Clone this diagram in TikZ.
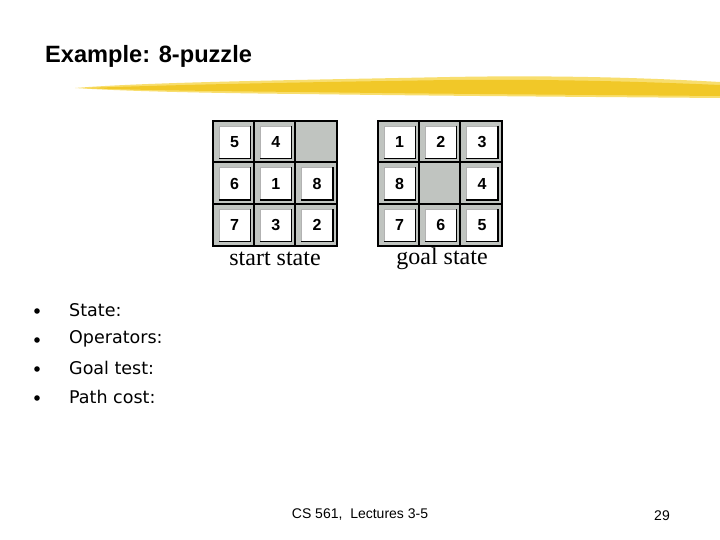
\documentclass[tikz,border=0pt]{standalone}
\usepackage{fontspec}
\setmainfont{Liberation Serif}
\newfontfamily\arialfont{Liberation Sans}
\newfontfamily\tahomafont{DejaVu Sans}
\usepackage{tikz}

\definecolor{cellgray}{RGB}{192,196,192}
\definecolor{brushyellow}{RGB}{241,200,40}
\definecolor{brushlight}{RGB}{248,222,110}

\begin{document}
\begin{tikzpicture}[x=1pt,y=-1pt,
    tile/.style={fill=white,draw=gray!60,line width=0.6pt,minimum width=31pt,minimum height=32pt,inner sep=0pt,
      font=\arialfont\bfseries\fontsize{16}{16}\selectfont},
    bullet/.style={anchor=west,inner sep=0pt,font=\tahomafont\fontsize{17.5}{17.5}\selectfont}]
    \useasboundingbox[fill=white] (0,0) rectangle (720,540);

    % title and brush stroke
    \node[anchor=base west,inner sep=0pt,font=\arialfont\bfseries\fontsize{23.6}{23.6}\selectfont] (title) at (45,63) {Example: 8-puzzle};
    \fill[brushlight] (75,88) .. controls (150,82) and (300,80) .. (450,77) .. controls (560,75) and (650,78) .. (720,82)
        -- (720,98) .. controls (600,97) and (450,96) .. (300,94) .. controls (200,93) and (120,91) .. (75,88) -- cycle;
    \fill[brushyellow] (85,88) .. controls (200,84) and (320,82) .. (450,80) .. controls (560,79) and (650,82) .. (720,85)
        -- (720,96) .. controls (600,95) and (450,94) .. (300,92) .. controls (200,91) and (130,90) .. (85,88) -- cycle;

    % start state
    \fill[cellgray] (213,121) rectangle (337,246);
    \foreach \c/\r/\n in {0/0/5,1/0/4,0/1/6,1/1/1,2/1/8,0/2/7,1/2/3,2/2/2} {
        \node[tile] (s\n) at ({213+41.3*\c+21.5},{121+41.7*\r+21}) {\n};
        \draw[line width=1.4pt] (s\n.north east) -- (s\n.south east) -- (s\n.south west);
    }
    \draw[line width=2pt] (213,121) rectangle (337,246);
    \draw[line width=1.8pt] (254,121) -- (254,246) (295,121) -- (295,246)
        (213,162) -- (337,162) (213,204) -- (337,204);
    \node[font=\fontsize{24}{24}\selectfont] (start) at (275,259) {start state};

    % goal state
    \fill[cellgray] (378,121) rectangle (502,246);
    \foreach \c/\r/\n in {0/0/1,1/0/2,2/0/3,0/1/8,2/1/4,0/2/7,1/2/6,2/2/5} {
        \node[tile] (g\n) at ({378+41.3*\c+21.5},{121+41.7*\r+21}) {\n};
        \draw[line width=1.4pt] (g\n.north east) -- (g\n.south east) -- (g\n.south west);
    }
    \draw[line width=2pt] (378,121) rectangle (502,246);
    \draw[line width=1.8pt] (419,121) -- (419,246) (460,121) -- (460,246)
        (378,162) -- (502,162) (378,204) -- (502,204);
    \node[font=\fontsize{24}{24}\selectfont] (goal) at (442,259) {goal state};

    % bullet list
    \foreach \t [count=\i] in {State:,Operators:,Goal test:,Path cost:} {
        \fill (37,{282+29*\i}) circle (2.8pt);
        \node[bullet] (item\i) at (69,{281+29*\i}) {\t};
    }

    % footer
    \node[font=\arialfont\fontsize{14}{14}\selectfont] (footer) at (360,515) {CS 561,\ \ Lectures 3-5};
    \node[font=\arialfont\fontsize{14}{14}\selectfont] (page) at (662,516) {29};
\end{tikzpicture}
\end{document}
